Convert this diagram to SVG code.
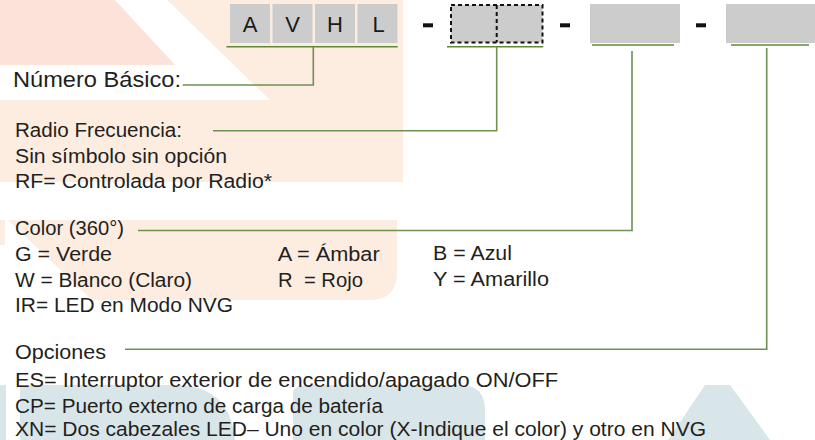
<svg xmlns="http://www.w3.org/2000/svg" width="815" height="440" viewBox="0 0 815 440">
<style>
.wm1{fill:#fce3d9}
.wm2{fill:#fdece0}
.wm3{fill:#d8e5e9}
.box{fill:#cccccc}
.code{font-family:"Liberation Sans",Arial,sans-serif;font-size:22px;fill:#1a1a1a;text-anchor:middle}
.t{font-family:"Liberation Sans",Arial,sans-serif;font-size:20px;fill:#231f20}
.dash{fill:#111111}
.ul{stroke:#5e8a36;stroke-width:1.6;fill:none}
.conn{stroke:#6f9150;stroke-width:1.6;fill:none}
.dbox{fill:#cccccc;stroke:#111111;stroke-width:2;stroke-dasharray:4 3}
</style>
<rect width="815" height="440" fill="#ffffff"/>
<g id="watermark">
<polygon class="wm1" points="0,0 115,0 175,65 0,65"/>
<polygon class="wm2" points="167,0 403,0 403,182 0,182 0,100 270,100"/>
<path class="wm2" d="M8,220 H397 V272 Q397,300 370,300 H92 Z"/>
<rect class="wm2" x="0" y="220" width="5" height="25"/>
<rect class="wm3" x="0" y="385" width="6" height="55"/>
<path class="wm3" d="M20,385 H175 Q230,385 235,440 H20 Z"/>
<path class="wm3" d="M293,392 Q295,385 310,385 H460 Q485,385 485,410 V440 H293 Z"/>
<path class="wm3" d="M705,385 H730 L770,440 H668 Z"/>
</g>
<g id="code-basic">
<rect class="box" x="230" y="4" width="40" height="39"/>
<rect class="box" x="272.5" y="4" width="40" height="39"/>
<rect class="box" x="315" y="4" width="40" height="39"/>
<rect class="box" x="357.5" y="4" width="40" height="39"/>
<text class="code" x="250" y="31.8">A</text>
<text class="code" x="292.5" y="31.8">V</text>
<text class="code" x="335" y="31.8">H</text>
<text class="code" x="378.5" y="31.8">L</text>
<line class="ul" x1="226.5" y1="46.7" x2="397.7" y2="46.7"/>
</g>
<g id="sep-dashes">
<rect class="dash" x="423" y="23.3" width="10" height="4"/>
<rect class="dash" x="560" y="23.3" width="10" height="4"/>
<rect class="dash" x="696" y="23.3" width="10" height="4"/>
</g>
<g id="code-rf">
<rect class="dbox" x="451" y="5" width="91.5" height="37.5"/>
<line x1="496.7" y1="5" x2="496.7" y2="42.5" stroke="#111111" stroke-width="2" stroke-dasharray="4 3"/>
<line class="ul" x1="447" y1="46.7" x2="543.3" y2="46.7"/>
</g>
<g id="code-color">
<rect class="box" x="590" y="4" width="90" height="39"/>
<line class="ul" x1="592" y1="45" x2="674" y2="45"/>
</g>
<g id="code-options">
<rect class="box" x="726" y="4" width="89" height="39"/>
<line class="ul" x1="731" y1="45" x2="809" y2="45"/>
</g>
<g id="connectors">
<path class="conn" d="M313.3,47 V85 H182.7"/>
<path class="conn" d="M496.7,47 V130.7 H213"/>
<path class="conn" d="M632,51 V230.5 H138"/>
<path class="conn" d="M766.7,48 V349.3 H125"/>
</g>
<g id="label-basic">
<text class="t" x="13" y="87.3" style="font-size:21.5px" textLength="168" lengthAdjust="spacingAndGlyphs">Número Básico:</text>
</g>
<g id="label-rf">
<text class="t" x="15" y="136.5" textLength="167" lengthAdjust="spacingAndGlyphs">Radio Frecuencia:</text>
<text class="t" x="15" y="162.5" textLength="212" lengthAdjust="spacingAndGlyphs">Sin símbolo sin opción</text>
<text class="t" x="15" y="187.5" textLength="257" lengthAdjust="spacingAndGlyphs">RF= Controlada por Radio*</text>
</g>
<g id="label-color">
<text class="t" x="15" y="235" textLength="109" lengthAdjust="spacingAndGlyphs">Color (360°)</text>
<text class="t" x="15" y="260.5" textLength="97" lengthAdjust="spacingAndGlyphs">G = Verde</text>
<text class="t" x="15" y="286.5" textLength="177" lengthAdjust="spacingAndGlyphs">W = Blanco (Claro)</text>
<text class="t" x="15" y="312" textLength="218" lengthAdjust="spacingAndGlyphs">IR= LED en Modo NVG</text>
<text class="t" x="277.7" y="260.5" textLength="102" lengthAdjust="spacingAndGlyphs">A = Ámbar</text>
<text class="t" x="278" y="286.5" textLength="85" lengthAdjust="spacingAndGlyphs" xml:space="preserve">R  = Rojo</text>
<text class="t" x="433" y="260" textLength="79" lengthAdjust="spacingAndGlyphs">B = Azul</text>
<text class="t" x="433" y="286" textLength="116" lengthAdjust="spacingAndGlyphs">Y = Amarillo</text>
</g>
<g id="label-options">
<text class="t" x="15" y="358.5" textLength="91" lengthAdjust="spacingAndGlyphs">Opciones</text>
<text class="t" x="15" y="386.5" textLength="543" lengthAdjust="spacingAndGlyphs">ES= Interruptor exterior de encendido/apagado ON/OFF</text>
<text class="t" x="15" y="413" textLength="368" lengthAdjust="spacingAndGlyphs">CP= Puerto externo de carga de batería</text>
<text class="t" x="15" y="435.5" textLength="691" lengthAdjust="spacingAndGlyphs">XN= Dos cabezales LED– Uno en color (X-Indique el color) y otro en NVG</text>
</g>
</svg>
